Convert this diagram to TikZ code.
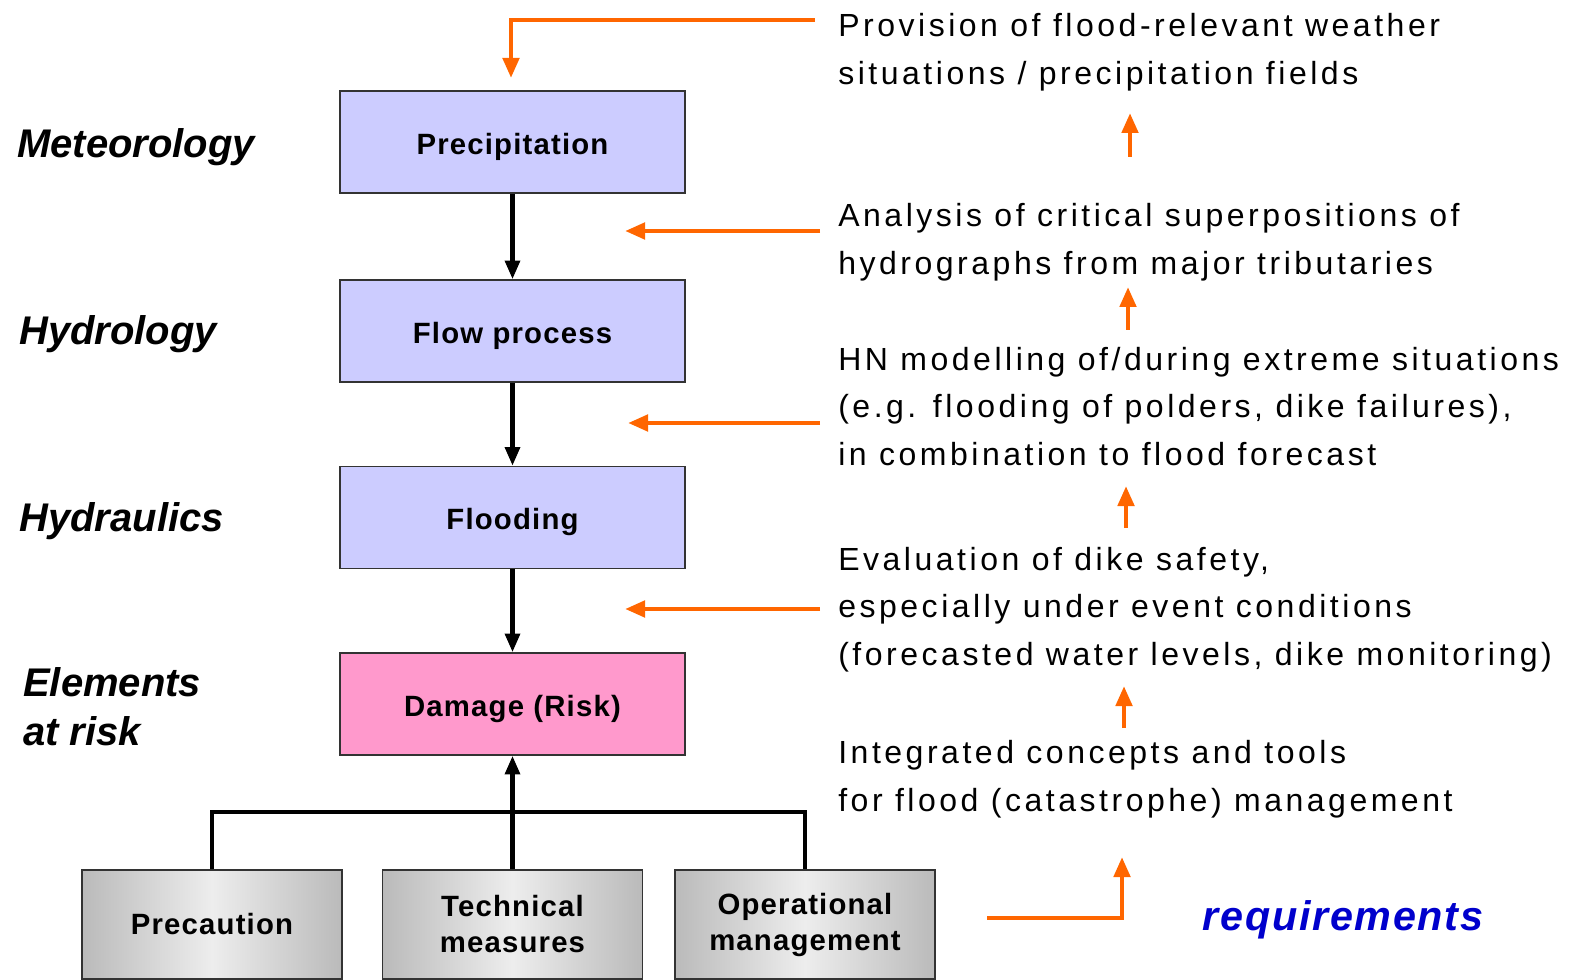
\documentclass[tikz,border=0pt]{standalone}
\usepackage{fontspec}
\setmainfont{Liberation Sans}
\newfontfamily\notefont[LetterSpace=11]{Liberation Sans}
\newfontfamily\boxfont[LetterSpace=4]{Liberation Sans}
\usetikzlibrary{arrows.meta}
\definecolor{reqorange}{RGB}{255,102,0}
\definecolor{reqblue}{RGB}{0,0,204}
\definecolor{stagefill}{RGB}{204,204,255}
\definecolor{riskfill}{RGB}{255,153,204}

\begin{document}
\begin{tikzpicture}[x=0.75pt,y=0.75pt,yscale=-1,xscale=1,
    stage/.style={draw=black!80, line width=1.2pt, fill=stagefill, inner sep=0pt,
        minimum width=258.75pt, minimum height=76.5pt, text height=18.5pt, text depth=0pt,
        font=\boxfont\bfseries\fontsize{22}{27}\selectfont},
    measure/.style={stage, left color=black!27, right color=black!27, middle color=black!7,
        minimum width=195pt, minimum height=81.75pt, text height=, text depth=, align=center},
    field/.style={anchor=west, inner sep=0pt, align=left,
        font=\bfseries\itshape\fontsize{30}{37}\selectfont},
    note/.style={anchor=west, inner sep=0pt, align=left,
        font=\notefont\fontsize{24}{35.8}\selectfont},
    flow/.style={line width=3.2pt, -{Triangle[length=14pt,width=11pt]}},
    req/.style={draw=reqorange, line width=3.5pt, -{Triangle[length=15pt,width=12pt]}}]
    %set diagram left start at 0, and has height of 973
    \path (0,0) rectangle (1573,973);

    %Shape: Rectangle
    \node [stage] (prec) at (512.5,142) {Precipitation};
    %Shape: Rectangle
    \node [stage] (flow) at (512.5,331) {Flow process};
    %Shape: Rectangle
    \node [stage] (fldg) at (512.5,517.5) {Flooding};
    %Shape: Rectangle
    \node [stage, fill=riskfill] (dmg) at (512.5,704) {Damage (Risk)};

    %Shape: Rectangle
    \node [measure] (prc) at (212,924.5) {Precaution};
    %Shape: Rectangle
    \node [measure] (tec) at (512.5,924.5) {Technical\\measures};
    %Shape: Rectangle
    \node [measure] (ops) at (805,924.5) {Operational\\management};

    %Straight Lines
    \draw [flow] (prec) -- (flow);
    \draw [flow] (flow) -- (fldg);
    \draw [flow] (fldg) -- (dmg);
    \coordinate (bus) at (512.5,812);
    \draw [line width=3.2pt] (prc.north) |- (bus) -| (ops.north);
    \draw [line width=3.2pt] (tec.north) -- (bus);
    \draw [flow] (bus) -- (dmg.south);

    % Text Node
    \node [field] (met) at (17,147) {Meteorology};
    % Text Node
    \node [field] (hyd) at (19,334) {Hydrology};
    % Text Node
    \node [field] (hdr) at (19,521) {Hydraulics};
    % Text Node
    \node [field] (elm) at (23,707) {Elements\\at risk};

    % Text Node
    \node [note] (n1) at (838,52.5) {Provision of flood-relevant weather\\situations / precipitation fields};
    % Text Node
    \node [note] (n2) at (838,242) {Analysis of critical superpositions of\\hydrographs from major tributaries};
    % Text Node
    \node [note] (n3) at (838,406.5) {HN modelling of/during extreme situations\\(e.g. flooding of polders, dike failures),\\in combination to flood forecast};
    % Text Node
    \node [note] (n4) at (838,609.5) {Evaluation of dike safety,\\especially under event conditions\\(forecasted water levels, dike monitoring)};
    % Text Node
    \node [note] (n5) at (838,779.5) {Integrated concepts and tools\\for flood (catastrophe) management};
    % Text Node
    \node [inner sep=0pt, text=reqblue, font=\boxfont\bfseries\itshape\fontsize{31}{37}\selectfont] (req) at (1343,920) {requirements};

    %Orange arrows
    \coordinate (r0s) at (815,20);
    \coordinate (r0e) at (511,78);
    \draw [req] (r0s) -| (r0e);
    \coordinate (h1s) at (820,231);
    \coordinate (h1e) at (625,231);
    \draw [req] (h1s) -- (h1e);
    \coordinate (h2s) at (820,423);
    \coordinate (h2e) at (628,423);
    \draw [req] (h2s) -- (h2e);
    \coordinate (h3s) at (820,609);
    \coordinate (h3e) at (625,609);
    \draw [req] (h3s) -- (h3e);
    \coordinate (u1s) at (1130,157);
    \coordinate (u1e) at (1130,113);
    \draw [req] (u1s) -- (u1e);
    \coordinate (u2s) at (1128,330);
    \coordinate (u2e) at (1128,287);
    \draw [req] (u2s) -- (u2e);
    \coordinate (u3s) at (1126,528);
    \coordinate (u3e) at (1126,486);
    \draw [req] (u3s) -- (u3e);
    \coordinate (u4s) at (1124,728);
    \coordinate (u4e) at (1124,686);
    \draw [req] (u4s) -- (u4e);
    \coordinate (b0s) at (987,918);
    \coordinate (b0e) at (1122,857);
    \draw [req] (b0s) -| (b0e);

\end{tikzpicture}
\end{document}
